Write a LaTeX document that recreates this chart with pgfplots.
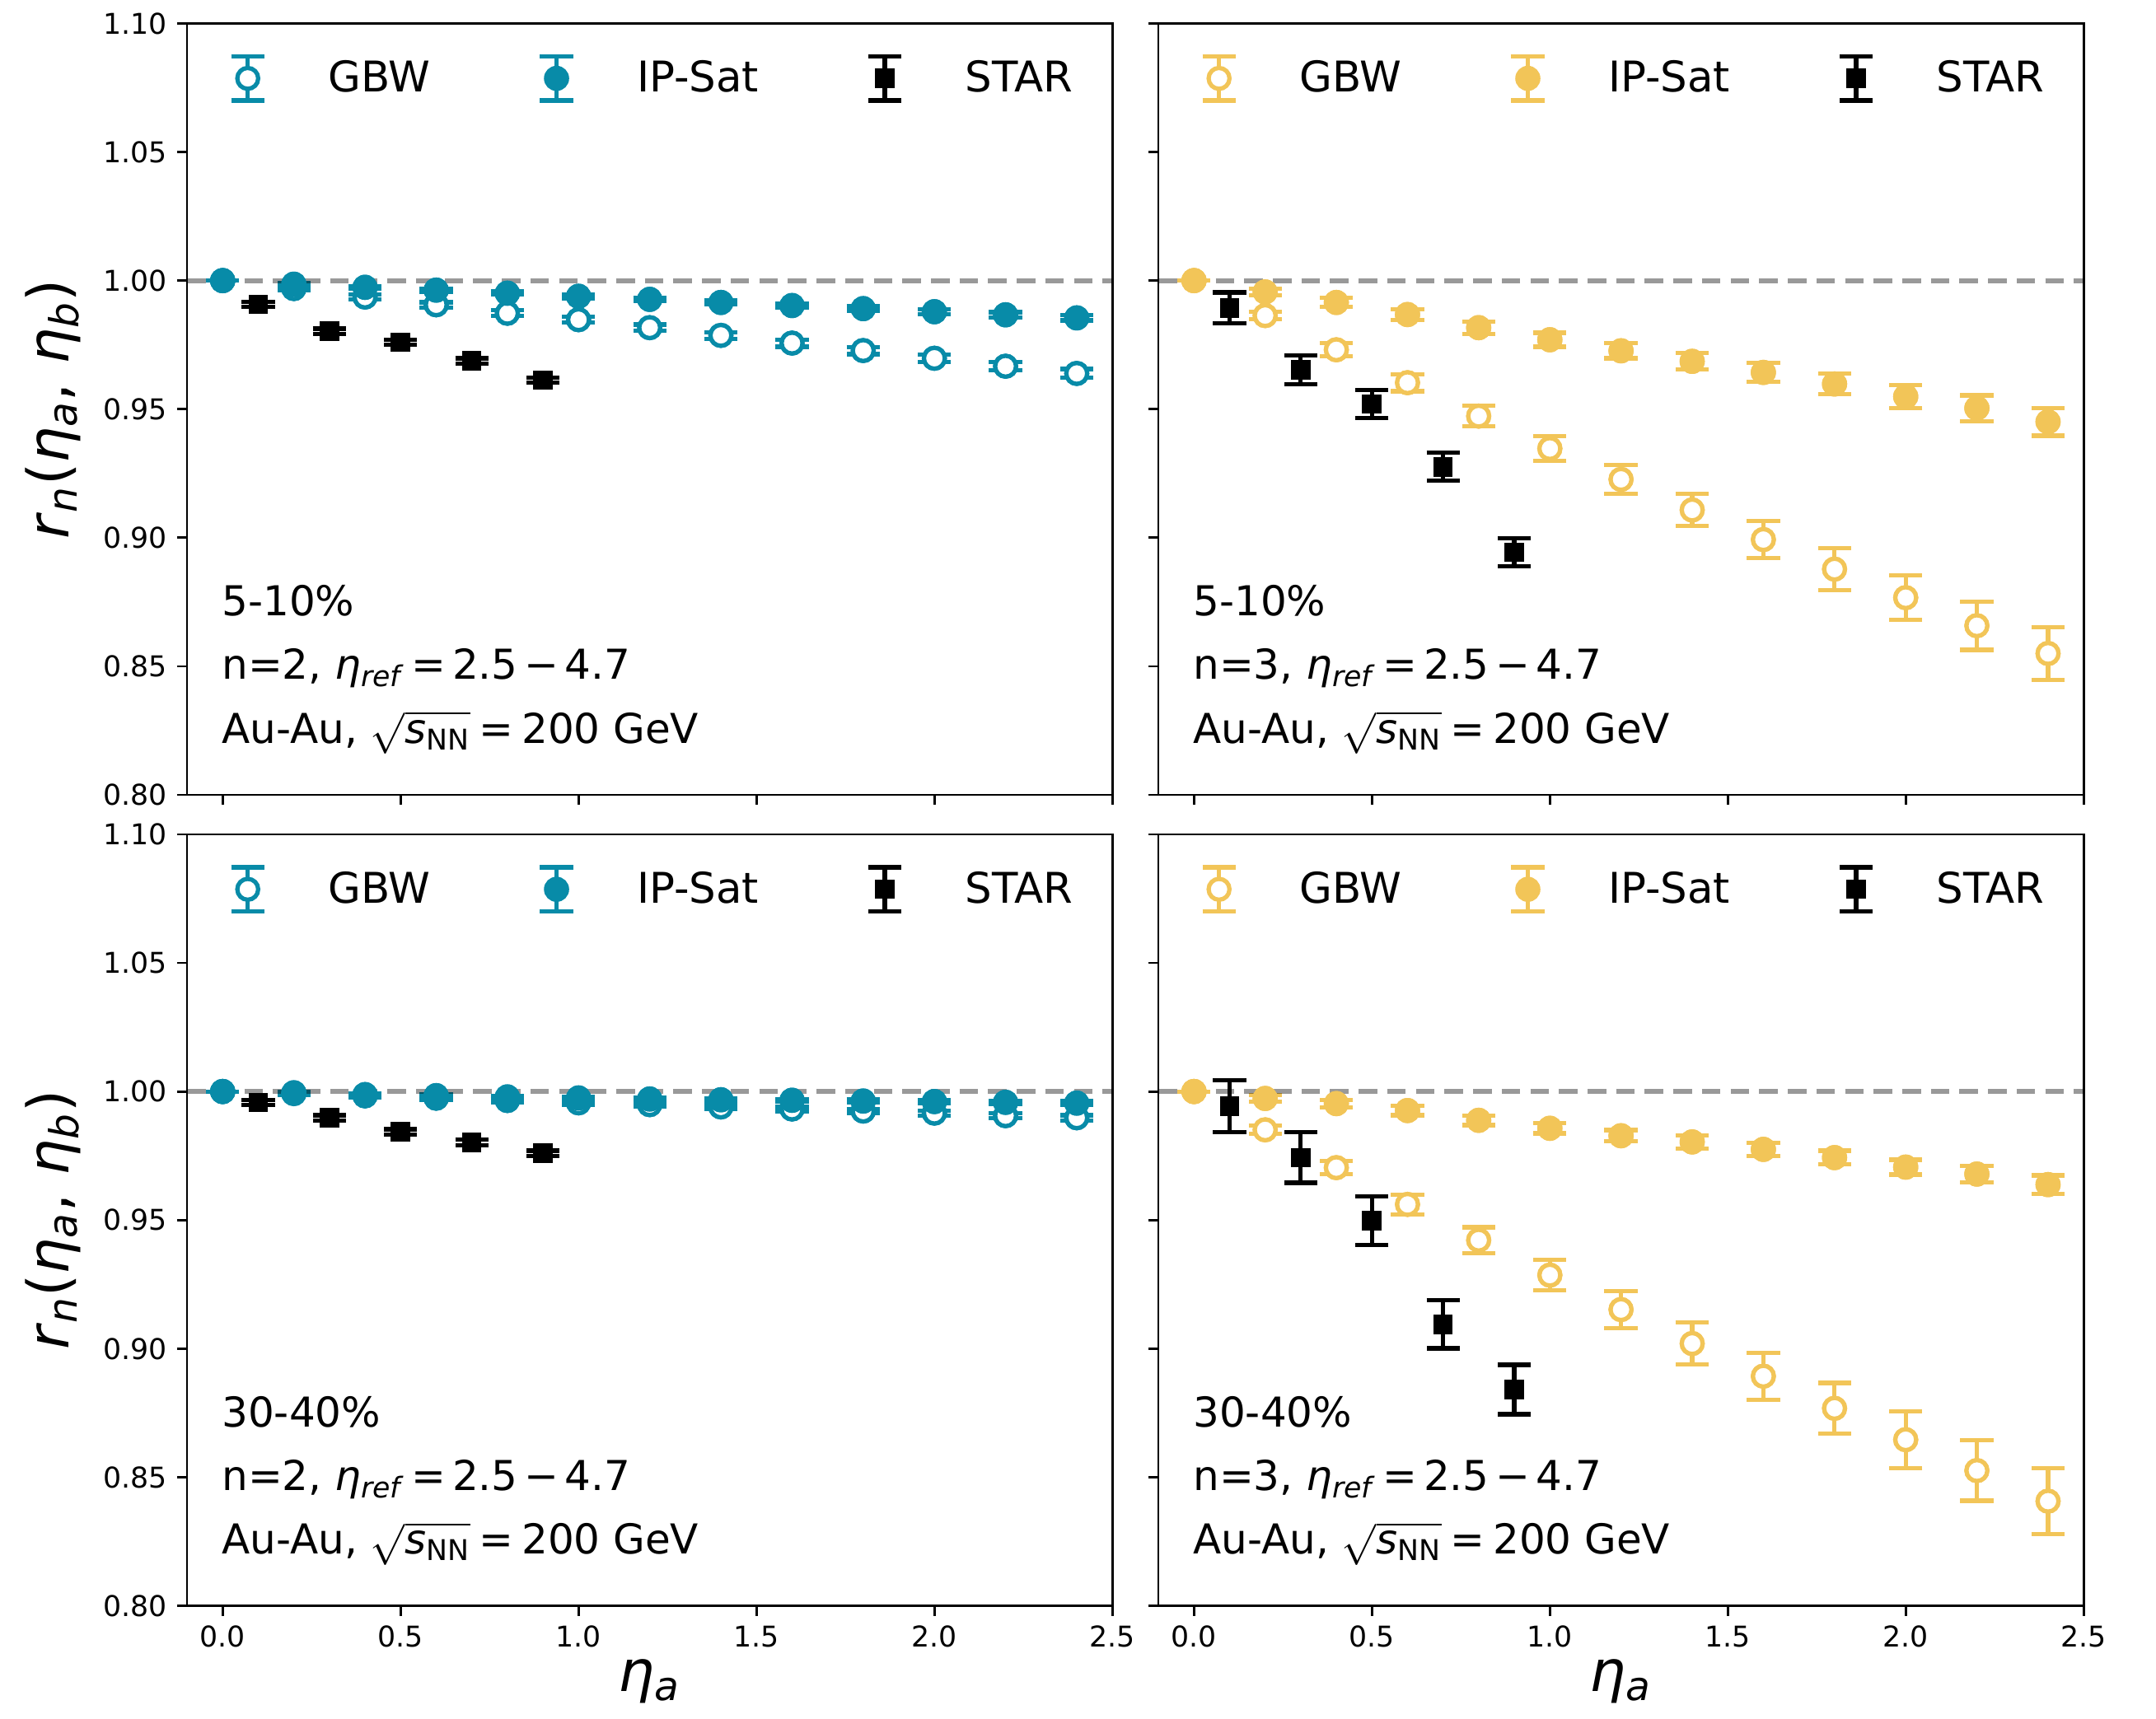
\documentclass[border=0pt]{standalone}
\usepackage{fontspec}
\setmainfont{DejaVu Sans}
\usepackage{pgfplots}
\pgfplotsset{compat=1.18}
\usepackage{pgfplotstable}

\definecolor{cteal}{RGB}{8,139,168}
\definecolor{cgold}{RGB}{242,197,88}
\newcommand{\fsz}[2]{\fontsize{#1}{#2}\selectfont}

\newcommand{\legbar}[1]{%
  \path[draw=none, fill=none] (0pt,0pt) (29pt,0pt);
  \draw[#1, line width=1.5pt] (14.5pt,-7.7pt) -- (14.5pt,7.7pt)
     (8.7pt,-7.7pt) -- (20.3pt,-7.7pt) (8.7pt,7.7pt) -- (20.3pt,7.7pt);}
\newcommand{\legopen}[1]{\legbar{#1}\draw[#1, fill=white, line width=1.5pt] (14.5pt,0pt) circle[radius=3.65pt];}
\newcommand{\legfill}[1]{\legbar{#1}\draw[#1, fill=#1, line width=1pt] (14.5pt,0pt) circle[radius=3.9pt];}
\newcommand{\legsq}{\legbar{black}\draw[black, fill=black, line width=0.6pt] (11.4pt,-3.1pt) rectangle (17.6pt,3.1pt);}

\tikzset{ann/.style={anchor=base west, inner sep=0pt, font=\fsz{14.4}{17}}}

\pgfplotsset{
 panel/.style={
  scale only axis, width=323.4pt, height=269.7pt,
  xmin=-0.1, xmax=2.5, ymin=0.8, ymax=1.1,
  xtick={0,0.5,1,1.5,2,2.5}, ytick={0.8,0.85,0.9,0.95,1,1.05,1.1},
  xtick pos=bottom, ytick pos=left, tick align=outside,
  major tick length=3.5pt,
  tick style={black, line width=0.8pt},
  axis line style={line width=0.8pt},
  /pgf/number format/assume math mode=true,
  tick label style={font=\fsz{10}{12}},
  yticklabel style={/pgf/number format/fixed, /pgf/number format/fixed zerofill, /pgf/number format/precision=2},
  xticklabel style={/pgf/number format/fixed, /pgf/number format/fixed zerofill, /pgf/number format/precision=1},
  scaled ticks=false,
  legend columns=3,
  legend cell align=left,
  legend style={draw=none, fill=none, at={(0,0.9288)}, anchor=west, xshift=6.5pt, inner sep=0pt,
     font=\fsz{14.8}{17},
     /tikz/every odd column/.append style={column sep=11.6pt},
     /tikz/every even column/.append style={column sep=27.6pt}},
  xlabel style={at={([yshift=-26.5pt]rel axis cs:0.5,0)}, anchor=center, font=\fsz{20}{24}},
  ylabel style={at={([xshift=-47pt]rel axis cs:0,0.5)}, anchor=center, font=\fsz{20}{24}},
 },
 sopen/.style={only marks, forget plot, mark=*, mark size=3.65pt, mark options={draw=#1, fill=white, line width=1.5pt},
   error bars/.cd, y dir=both, y explicit, error bar style={line width=1.5pt, color=#1},
   error mark options={rotate=90, line width=1.5pt, mark size=5.8pt, color=#1}},
 mopen/.style={only marks, forget plot, mark=*, mark size=3.65pt, mark options={draw=#1, fill=white, line width=1.5pt}},
 sfill/.style={only marks, forget plot, mark=*, mark size=3.9pt, mark options={draw=#1, fill=#1, line width=1pt},
   error bars/.cd, y dir=both, y explicit, error bar style={line width=1.5pt, color=#1},
   error mark options={rotate=90, line width=1.5pt, mark size=5.8pt, color=#1}},
 mfill/.style={only marks, forget plot, mark=*, mark size=3.9pt, mark options={draw=#1, fill=#1, line width=1pt}},
 sstar/.style={only marks, forget plot, mark=square*, mark size=3.1pt, mark options={draw=black, fill=black, line width=0.6pt},
   error bars/.cd, y dir=both, y explicit, error bar style={line width=1.5pt, color=black},
   error mark options={rotate=90, line width=1.5pt, mark size=5.8pt, color=black}},
 mstar/.style={only marks, forget plot, mark=square*, mark size=3.1pt, mark options={draw=black, fill=black, line width=0.6pt}},
 refline/.style={forget plot, black, opacity=0.4, line width=1.7pt, dash pattern=on 6.5pt off 3.5pt},
}

% ---------- n=2, 5-10% ----------
\pgfplotstableread{
x y e
0.0 1.0000 0.0000
0.2 0.9969 0.0008
0.4 0.9936 0.0009
0.6 0.9906 0.0010
0.8 0.9873 0.0011
1.0 0.9848 0.0012
1.2 0.9817 0.0012
1.4 0.9787 0.0013
1.6 0.9757 0.0014
1.8 0.9728 0.0014
2.0 0.9698 0.0015
2.2 0.9667 0.0016
2.4 0.9639 0.0017
}\tlG
\pgfplotstableread{
x y e
0.0 1.0000 0.0000
0.2 0.9986 0.0005
0.4 0.9974 0.0005
0.6 0.9963 0.0006
0.8 0.9951 0.0006
1.0 0.9939 0.0007
1.2 0.9927 0.0007
1.4 0.9915 0.0008
1.6 0.9903 0.0008
1.8 0.9891 0.0009
2.0 0.9879 0.0009
2.2 0.9867 0.0010
2.4 0.9855 0.0010
}\tlI
\pgfplotstableread{
x y e
0.1 0.9908 0.0010
0.3 0.9803 0.0010
0.5 0.9760 0.0010
0.7 0.9688 0.0010
0.9 0.9613 0.0010
}\tlS
% ---------- n=3, 5-10% ----------
\pgfplotstableread{
x y e
0.0 1.0000 0.0000
0.2 0.9864 0.0015
0.4 0.9731 0.0025
0.6 0.9603 0.0033
0.8 0.9473 0.0040
1.0 0.9347 0.0048
1.2 0.9227 0.0056
1.4 0.9108 0.0063
1.6 0.8993 0.0072
1.8 0.8878 0.0081
2.0 0.8767 0.0087
2.2 0.8658 0.0094
2.4 0.8550 0.0102
}\trG
\pgfplotstableread{
x y e
0.0 1.0000 0.0000
0.2 0.9956 0.0012
0.4 0.9915 0.0018
0.6 0.9868 0.0020
0.8 0.9817 0.0024
1.0 0.9770 0.0027
1.2 0.9727 0.0029
1.4 0.9686 0.0032
1.6 0.9643 0.0037
1.8 0.9598 0.0040
2.0 0.9549 0.0045
2.2 0.9504 0.0050
2.4 0.9451 0.0054
}\trI
\pgfplotstableread{
x y e
0.1 0.9894 0.0060
0.3 0.9653 0.0057
0.5 0.9520 0.0055
0.7 0.9276 0.0055
0.9 0.8944 0.0055
}\trS
% ---------- n=2, 30-40% ----------
\pgfplotstableread{
x y e
0.0 1.0000 0.0000
0.2 0.9992 0.0005
0.4 0.9983 0.0005
0.6 0.9974 0.0006
0.8 0.9965 0.0006
1.0 0.9956 0.0007
1.2 0.9949 0.0007
1.4 0.9940 0.0008
1.6 0.9932 0.0008
1.8 0.9924 0.0009
2.0 0.9916 0.0009
2.2 0.9906 0.0010
2.4 0.9898 0.0010
}\blG
\pgfplotstableread{
x y e
0.0 1.0000 0.0000
0.2 0.9995 0.0003
0.4 0.9988 0.0003
0.6 0.9984 0.0004
0.8 0.9979 0.0004
1.0 0.9975 0.0004
1.2 0.9971 0.0005
1.4 0.9968 0.0005
1.6 0.9966 0.0005
1.8 0.9963 0.0006
2.0 0.9961 0.0006
2.2 0.9958 0.0006
2.4 0.9955 0.0007
}\blI
\pgfplotstableread{
x y e
0.1 0.9957 0.0010
0.3 0.9898 0.0010
0.5 0.9843 0.0010
0.7 0.9802 0.0010
0.9 0.9760 0.0010
}\blS
% ---------- n=3, 30-40% ----------
\pgfplotstableread{
x y e
0.0 1.0000 0.0000
0.2 0.9851 0.0016
0.4 0.9704 0.0025
0.6 0.9561 0.0038
0.8 0.9422 0.0050
1.0 0.9286 0.0060
1.2 0.9152 0.0072
1.4 0.9020 0.0082
1.6 0.8893 0.0091
1.8 0.8768 0.0099
2.0 0.8646 0.0110
2.2 0.8526 0.0117
2.4 0.8407 0.0128
}\brG
\pgfplotstableread{
x y e
0.0 1.0000 0.0000
0.2 0.9973 0.0012
0.4 0.9953 0.0014
0.6 0.9926 0.0018
0.8 0.9888 0.0019
1.0 0.9857 0.0020
1.2 0.9828 0.0022
1.4 0.9804 0.0025
1.6 0.9775 0.0026
1.8 0.9743 0.0027
2.0 0.9706 0.0029
2.2 0.9679 0.0032
2.4 0.9638 0.0036
}\brI
\pgfplotstableread{
x y e
0.1 0.9943 0.0101
0.3 0.9743 0.0098
0.5 0.9497 0.0095
0.7 0.9095 0.0094
0.9 0.8841 0.0096
}\brS

\newcommand{\ylab}{\textit{r}\textsubscript{\textit{n}}(\textit{η}\textsubscript{\textit{a}}, \textit{η}\textsubscript{\textit{b}})}
\newcommand{\xlab}{\textit{η}\textsubscript{\textit{a}}}
\newcommand{\etaref}{\textit{η}\textsubscript{\textit{ref}}\hspace{0.15em}=\hspace{0.15em}2.5\hspace{0.15em}−\hspace{0.15em}4.7}
\newcommand{\auau}{Au-Au, $\sqrt{\mbox{\textit{s}\textsubscript{NN}}}$\hspace{0.2em}=\hspace{0.2em}200 GeV}

\newcommand{\panelplots}[4]{% G I S color
  \addlegendimage{legend image code/.code={\legopen{#4}}}\addlegendentry{GBW}
  \addlegendimage{legend image code/.code={\legfill{#4}}}\addlegendentry{IP-Sat}
  \addlegendimage{legend image code/.code={\legsq}}\addlegendentry{STAR}
  \addplot[sopen=#4] table[x=x,y=y,y error=e] {#1};
  \addplot[mopen=#4] table[x=x,y=y] {#1};
  \addplot[sfill=#4] table[x=x,y=y,y error=e] {#2};
  \addplot[mfill=#4] table[x=x,y=y] {#2};
  \addplot[sstar] table[x=x,y=y,y error=e] {#3};
  \addplot[mstar] table[x=x,y=y] {#3};
  \addplot[refline] coordinates {(-0.1,1) (2.5,1)};
}

\begin{document}
\begin{tikzpicture}
\useasboundingbox (-65.4pt,-39.5pt) rectangle (688.2pt,561.4pt);

\begin{axis}[panel, at={(0pt,283.5pt)}, anchor=south west, xticklabels={}, ylabel={\ylab}]
\panelplots{\tlG}{\tlI}{\tlS}{cteal}
\node[ann] at (rel axis cs:0.037,0.232) {5-10\%};
\node[ann] at (rel axis cs:0.037,0.150) {n=2, \etaref};
\node[ann] at (rel axis cs:0.037,0.067) {\auau};
\end{axis}

\begin{axis}[panel, at={(339.5pt,283.5pt)}, anchor=south west, xticklabels={}, yticklabels={}]
\panelplots{\trG}{\trI}{\trS}{cgold}
\node[ann] at (rel axis cs:0.037,0.232) {5-10\%};
\node[ann] at (rel axis cs:0.037,0.150) {n=3, \etaref};
\node[ann] at (rel axis cs:0.037,0.067) {\auau};
\end{axis}

\begin{axis}[panel, at={(0pt,0pt)}, anchor=south west, ylabel={\ylab}, xlabel={\xlab}]
\panelplots{\blG}{\blI}{\blS}{cteal}
\node[ann] at (rel axis cs:0.037,0.232) {30-40\%};
\node[ann] at (rel axis cs:0.037,0.150) {n=2, \etaref};
\node[ann] at (rel axis cs:0.037,0.067) {\auau};
\end{axis}

\begin{axis}[panel, at={(339.5pt,0pt)}, anchor=south west, yticklabels={}, xlabel={\xlab}]
\panelplots{\brG}{\brI}{\brS}{cgold}
\node[ann] at (rel axis cs:0.037,0.232) {30-40\%};
\node[ann] at (rel axis cs:0.037,0.150) {n=3, \etaref};
\node[ann] at (rel axis cs:0.037,0.067) {\auau};
\end{axis}
\end{tikzpicture}
\end{document}
